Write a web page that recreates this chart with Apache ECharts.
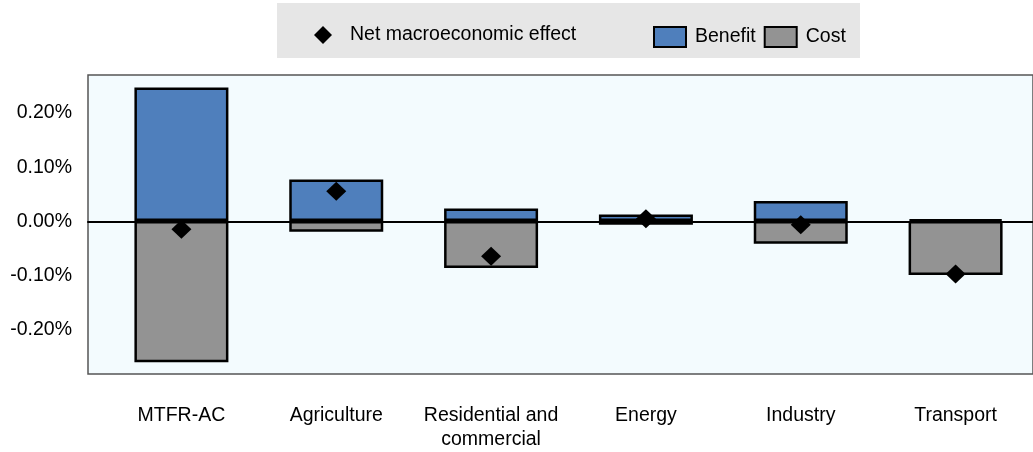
<!DOCTYPE html>
<html>
<head>
<meta charset="utf-8">
<script src="https://cdn.jsdelivr.net/npm/echarts@6/dist/echarts.min.js"></script>
<style>
  html, body { margin: 0; padding: 0; background: #fff; }
  #chart { width: 1033px; height: 452px; }
</style>
</head>
<body>
<div id="chart"></div>
<script>
// data (percent)
const categories = ['MTFR-AC', 'Agriculture', 'Residential and\ncommercial', 'Energy', 'Industry', 'Transport'];
const benefit = [0.247, 0.077, 0.023, 0.012, 0.037, 0.003];
const cost = [-0.261, -0.020, -0.087, -0.007, -0.042, -0.100];
const netEffect = [-0.015, 0.055, -0.065, 0.004, -0.007, -0.098];
const yTicks = [-0.2, -0.1, 0, 0.1, 0.2];

const font = "'Liberation Sans', Arial, sans-serif";
const chart = echarts.init(document.getElementById('chart'));

const option = {
  animation: false,
  textStyle: { fontFamily: font },
  graphic: [{
    type: 'rect',
    shape: { x: 277, y: 3, width: 583, height: 55 },
    style: { fill: '#e6e6e6' },
    z: -1
  }],
  legend: [
    {
      data: ['Net macroeconomic effect'],
      left: 309, top: 20,
      itemWidth: 18, itemHeight: 18,
      textStyle: { fontSize: 19.5, color: '#000', fontFamily: font, padding: [0, 0, 0, 13] }
    },
    {
      data: ['Benefit', 'Cost'],
      left: 648, top: 21, icon: 'rect',
      itemWidth: 32, itemHeight: 20, itemGap: 8,
      textStyle: { fontSize: 19.5, color: '#000', fontFamily: font, padding: [0, 0, 0, 4] }
    }
  ],
  grid: [
    { left: 88, right: -3, top: 75, height: 299, show: true, backgroundColor: '#f3fbfe', borderColor: '#555', borderWidth: 1.5 },
    { left: 104, right: 0, top: 75, height: 299 }
  ],
  xAxis: [
    {
      gridIndex: 0, type: 'value', min: 0, max: 1,
      axisLine: { show: true, onZero: true, lineStyle: { color: '#000', width: 2 } },
      axisTick: { show: false }, axisLabel: { show: false }, splitLine: { show: false }
    },
    {
      gridIndex: 1, type: 'category', data: categories,
      axisLine: { show: false, onZero: false },
      axisTick: { show: false },
      axisLabel: { color: '#000', fontSize: 19.5, fontFamily: font, margin: 31, lineHeight: 24, interval: 0 },
      splitLine: { show: false }
    }
  ],
  yAxis: [
    {
      gridIndex: 0, type: 'value', min: -0.281, max: 0.27,
      axisLine: { show: false }, axisTick: { show: false },
      splitLine: { show: false },
      axisLabel: {
        customValues: yTicks,
        color: '#000', fontSize: 19.5, fontFamily: font, margin: 16,
        formatter: v => v.toFixed(2) + '%'
      }
    },
    {
      gridIndex: 1, type: 'value', min: -0.281, max: 0.27,
      axisLine: { show: false }, axisTick: { show: false },
      axisLabel: { show: false }, splitLine: { show: false }
    }
  ],
  series: [
    {
      name: 'Benefit', type: 'bar', xAxisIndex: 1, yAxisIndex: 1,
      data: benefit, barWidth: 94, barGap: '-100%',
      itemStyle: { color: '#4f7fbc', borderColor: '#000', borderWidth: 2.5 }
    },
    {
      name: 'Cost', type: 'bar', xAxisIndex: 1, yAxisIndex: 1,
      data: cost, barWidth: 94, barGap: '-100%',
      itemStyle: { color: '#939393', borderColor: '#000', borderWidth: 2.5 }
    },
    {
      name: 'Net macroeconomic effect', type: 'scatter', xAxisIndex: 1, yAxisIndex: 1,
      data: netEffect, symbol: 'diamond', symbolSize: [20, 19], z: 5,
      itemStyle: { color: '#000', opacity: 1 }
    }
  ]
};
chart.setOption(option);
</script>
</body>
</html>
